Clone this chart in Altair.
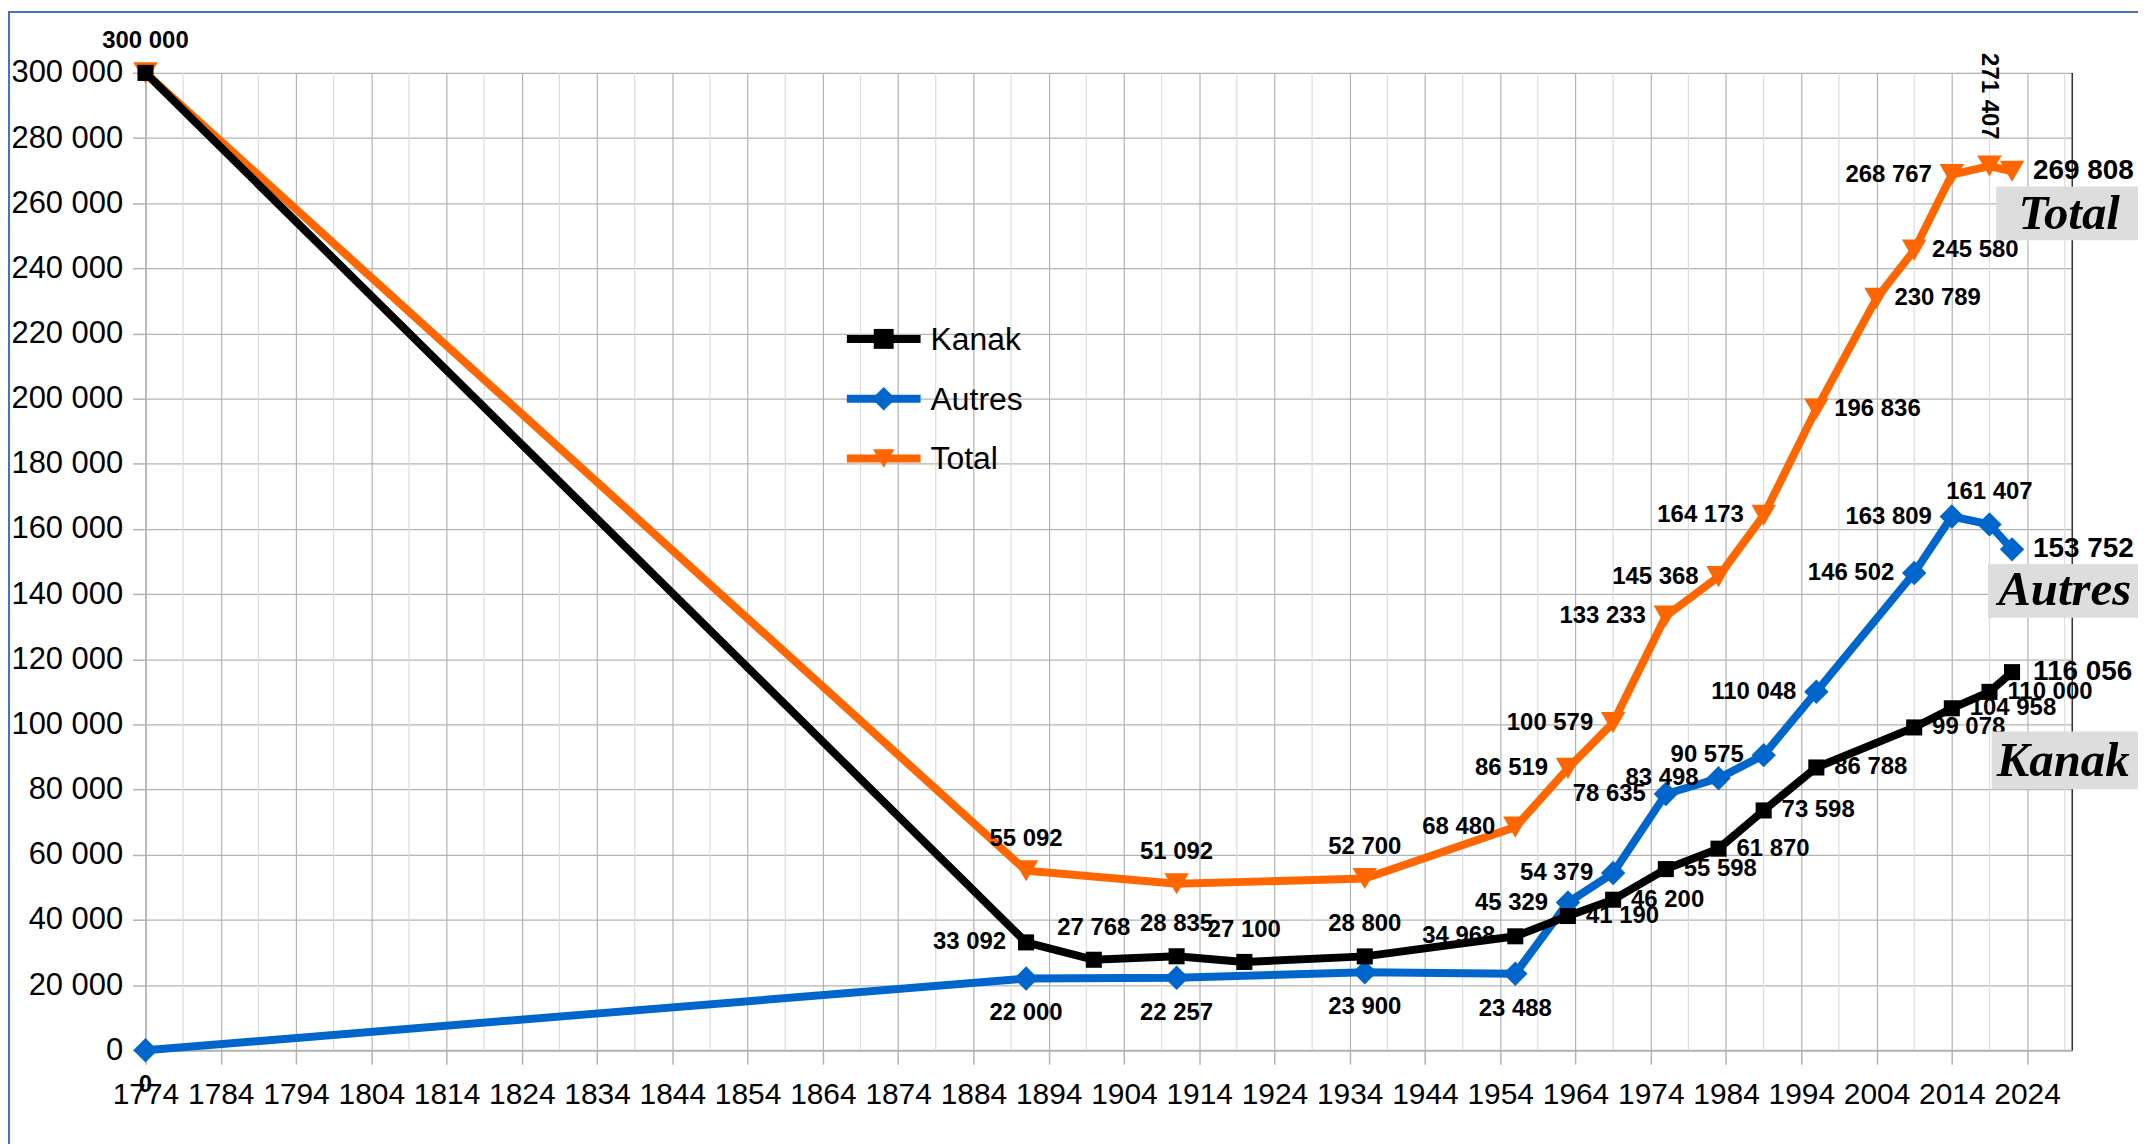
import altair as alt
import pandas as pd

# ---------------- data ----------------
kanak_years = [1774, 1891, 1900, 1911, 1920, 1936, 1956, 1963, 1969, 1976, 1983, 1989, 1996, 2009, 2014, 2019, 2022]
kanak_values = [300000, 33092, 27768, 28835, 27100, 28800, 34968, 41190, 46200, 55598, 61870, 73598, 86788, 99078, 104958, 110000, 116056]
kanak_label_pos = ["none", "left", "above", "above", "above", "above", "left", "right", "right", "right",
                   "right", "right", "right", "right", "right", "right", "end"]

autres_years = [1774, 1891, 1911, 1936, 1956, 1963, 1969, 1976, 1983, 1989, 1996, 2009, 2014, 2019, 2022]
autres_values = [0, 22000, 22257, 23900, 23488, 45329, 54379, 78635, 83498, 90575, 110048, 146502, 163809, 161407, 153752]
autres_label_pos = ["below", "below", "below", "below", "below", "left", "left", "left", "left", "left",
                    "left", "left", "left", "above", "end"]

total_years = [1774, 1891, 1911, 1936, 1956, 1963, 1969, 1976, 1983, 1989, 1996, 2004, 2009, 2014, 2019, 2022]
total_values = [300000, 55092, 51092, 52700, 68480, 86519, 100579, 133233, 145368, 164173, 196836, 230789, 245580, 268767, 271407, 269808]
total_label_pos = ["above", "above", "above", "above", "left", "left", "left", "left", "left", "left",
                   "right", "right", "right", "left", "vertical", "end"]

series_names = ["Kanak", "Autres", "Total"]
series_colors = ["#000000", "#0066cc", "#ff6600"]
series_shapes = ["square", "diamond", "triangle-down"]

major_years = list(range(1774, 2025, 10))
minor_years = list(range(1779, 2030, 10))
y_ticks = list(range(0, 300001, 20000))

# series-name tags at right end (year / value positions)
tag_names = ["Total", "Autres", "Kanak"]
tag_box_x1 = [2019.9, 2018.8, 2019.3]
tag_box_y1 = [265138, 149235, 97859]
tag_box_y2 = [248624, 132722, 80122]
tag_text_x = [2029.6, 2029.0, 2028.8]
tag_text_y = [251988, 136697, 84098]


def fmt(v):
    return f"{v:,}".replace(",", " ")


def make_df(years, values, pos, name):
    return pd.DataFrame({"year": years, "value": values, "pos": pos,
                         "label": [fmt(v) for v in values], "series": name})


dfs = {
    "Kanak": make_df(kanak_years, kanak_values, kanak_label_pos, "Kanak"),
    "Autres": make_df(autres_years, autres_values, autres_label_pos, "Autres"),
    "Total": make_df(total_years, total_values, total_label_pos, "Total"),
}
all_df = pd.concat(list(dfs.values()), ignore_index=True)

W, H = 1934, 981

X_SCALE = alt.Scale(domain=[1774, 2030], nice=False, zero=False)
Y_SCALE = alt.Scale(domain=[0, 300000], nice=False, zero=True)
X_AXIS = alt.Axis(values=major_years, format="d", title=None, labelFontSize=30,
                  labelColor="#000000", labelFlush=False, labelOverlap=False,
                  tickSize=14, tickColor="#b3b3b3", tickWidth=1.5,
                  gridColor="#b3b3b3", gridWidth=1.2,
                  domainColor="#b3b3b3", domainWidth=2, labelPadding=15)
Y_AXIS = alt.Axis(values=y_ticks, title=None, labelFontSize=31, labelColor="#000000",
                  labelExpr="replace(format(datum.value, ',d'), ',', ' ')",
                  tickSize=13, tickColor="#b3b3b3", tickWidth=1.5,
                  gridColor="#b3b3b3", gridWidth=1.2,
                  domainColor="#b3b3b3", domainWidth=1.5, labelPadding=10)


def X(field="year"):
    return alt.X(f"{field}:Q", scale=X_SCALE, axis=X_AXIS)


def Y(field="value"):
    return alt.Y(f"{field}:Q", scale=Y_SCALE, axis=Y_AXIS)


layers = []

# minor vertical gridlines
minor_df = pd.DataFrame({"year": minor_years})
layers.append(alt.Chart(minor_df).mark_rule(color="#dcdcdc", strokeWidth=1.2).encode(
    x=X(), y=alt.value(0), y2=alt.value(H)))

# right border of plot area
layers.append(alt.Chart(pd.DataFrame({"year": [2030]})).mark_rule(color="#333333", strokeWidth=1.5).encode(
    x=X(), y=alt.value(0), y2=alt.value(H)))

# lines + markers, Total at the bottom, Kanak on top
order = ["Total", "Autres", "Kanak"]
for name in order:
    i = series_names.index(name)
    d = dfs[name]
    layers.append(alt.Chart(d).mark_line(color=series_colors[i], strokeWidth=8).encode(x=X(), y=Y()))
for name in order:
    i = series_names.index(name)
    d = dfs[name]
    size = {"square": 260, "diamond": 600, "triangle-down": 600}[series_shapes[i]]
    layers.append(alt.Chart(d).mark_point(shape=series_shapes[i], filled=True, size=size,
                                          color=series_colors[i], opacity=1).encode(x=X(), y=Y()))

# data labels
placements = {
    "left": dict(align="right", baseline="middle", dx=-20),
    "right": dict(align="left", baseline="middle", dx=18),
    "above": dict(align="center", baseline="middle", dy=-32),
    "below": dict(align="center", baseline="middle", dy=35),
    "vertical": dict(align="center", baseline="middle", angle=90, dx=-70),
    "end": dict(align="left", baseline="middle", dx=21, fontSize=28),
}
for pos, kw in placements.items():
    args = dict(font="Liberation Sans", fontWeight="bold", fontSize=24, color="#000000")
    args.update(kw)
    layers.append(alt.Chart(all_df).transform_filter(alt.datum.pos == pos)
                  .mark_text(**args).encode(x=X(), y=Y(), text="label:N"))

# series-name tags with grey boxes
tag_df = pd.DataFrame({"name": tag_names, "x1": tag_box_x1, "x2": [2045] * 3,
                       "y1": tag_box_y1, "y2": tag_box_y2,
                       "tx": tag_text_x, "ty": tag_text_y})
layers.append(alt.Chart(tag_df).mark_rect(color="#dddddd").encode(
    x=X("x1"), x2="x2:Q", y=Y("y1"), y2="y2:Q"))
layers.append(alt.Chart(tag_df).mark_text(font="Liberation Serif", fontStyle="italic", fontWeight="bold",
                                          fontSize=49, align="center", baseline="alphabetic",
                                          color="#000000").encode(
    x=X("tx"), y=Y("ty"), text="name:N"))

# legend (manual)
leg_rows = [267, 327, 387]
for i, name in enumerate(series_names):
    ldf = pd.DataFrame({"name": [name]})
    yv = leg_rows[i]
    layers.append(alt.Chart(ldf).mark_rule(color=series_colors[i], strokeWidth=8).encode(
        x=alt.value(704), x2=alt.value(778), y=alt.value(yv)))
    size = {"square": 400, "diamond": 560, "triangle-down": 460}[series_shapes[i]]
    layers.append(alt.Chart(ldf).mark_point(shape=series_shapes[i], filled=True, size=size,
                                            color=series_colors[i], opacity=1).encode(
        x=alt.value(741), y=alt.value(yv)))
    layers.append(alt.Chart(ldf).mark_text(fontSize=32, align="left", baseline="middle",
                                           color="#000000").encode(
        x=alt.value(788), y=alt.value(yv + 1), text="name:N"))

# outer frame (top and left)
frame_df = pd.DataFrame({"k": [0]})
layers.append(alt.Chart(frame_df).mark_rule(color="#4472c4", strokeWidth=2).encode(
    x=alt.value(-137), x2=alt.value(2100), y=alt.value(-61)))
layers.append(alt.Chart(frame_df).mark_rule(color="#4472c4", strokeWidth=2).encode(
    x=alt.value(-137), y=alt.value(-62), y2=alt.value(1100)))

chart = alt.layer(*layers).properties(
    width=W, height=H,
    autosize=alt.AutoSizeParams(type="none"),
    padding={"left": 138, "top": 63, "right": 66, "bottom": 92},
    background="#ffffff",
).configure_view(stroke=None).configure(font="Liberation Sans")

chart.save("out.html", embed_options={"renderer": "svg", "actions": False})
